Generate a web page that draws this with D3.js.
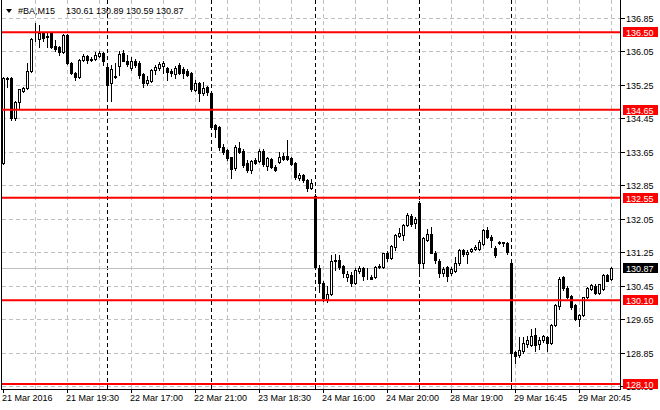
<!DOCTYPE html>
<html><head><meta charset="utf-8">
<script src="https://cdn.jsdelivr.net/npm/d3@7/dist/d3.min.js"></script>
<style>
html,body{margin:0;padding:0;background:#fff;}
svg{display:block;font-family:"Liberation Sans",Arial,sans-serif;font-size:9px;}
</style>
</head><body>
<svg id="c" width="660" height="410"></svg>
<script>
const symbol = "#BA,M15";
const timeLabels = ["21 Mar 2016","21 Mar 19:30","22 Mar 17:00","22 Mar 21:00","23 Mar 18:30","24 Mar 16:00","24 Mar 20:00","28 Mar 19:00","29 Mar 16:45","29 Mar 20:45"];
const timeLabelBars = [0,16,32,48,64,80,96,112,128,144];
const daySeparatorBars = [26,52,78,104,127];
const priceTicks = [136.85,136.05,135.25,134.45,133.65,132.85,132.05,131.25,130.45,129.65,128.85,128.05];
const levels = [136.50,134.65,132.55,130.10,128.10];

const open = [133.37,135.40,135.40,134.46,134.84,135.10,135.17,135.58,136.33,136.33,
136.47,136.40,136.47,136.17,136.15,136.03,136.43,135.76,135.52,135.42,
135.84,135.93,135.84,135.86,135.93,136.00,135.68,135.28,135.45,135.69,
136.00,135.82,135.64,135.81,135.76,135.50,135.29,135.34,135.60,135.64,
135.70,135.64,135.58,135.50,135.72,135.61,135.58,135.52,135.12,135.29,
135.04,135.18,135.04,134.28,134.24,133.75,133.69,133.51,133.25,133.73,
133.67,133.37,133.21,133.45,133.43,133.67,133.30,133.47,133.27,133.41,
133.54,133.55,133.49,133.38,133.03,133.09,132.97,132.77,132.59,130.87,
130.51,130.14,130.25,131.06,131.06,130.92,130.66,130.70,130.52,130.80,
130.87,130.67,130.66,130.66,130.89,130.90,131.22,131.10,131.38,131.64,
131.66,131.90,132.12,131.95,132.42,131.00,131.55,131.68,131.24,131.05,
130.74,130.89,130.74,130.81,130.98,131.30,131.21,131.28,131.33,131.33,
131.45,131.78,131.62,131.34,131.50,131.49,131.46,130.98,128.87,128.79,
128.90,129.05,129.03,129.27,129.05,129.15,129.22,129.07,129.51,129.96,
130.66,130.39,130.20,129.99,129.65,129.75,130.17,130.37,130.44,130.27,
130.38,130.70,130.61];
const high = [135.42,135.44,135.42,134.86,135.15,135.20,135.77,136.35,136.73,136.67,
136.50,136.47,136.49,136.31,136.17,136.45,136.45,135.78,135.55,135.86,
135.98,135.96,135.90,136.03,136.06,136.02,135.72,135.72,135.76,136.06,
136.07,135.95,135.90,135.86,135.80,135.52,135.45,135.62,135.72,135.78,
135.80,135.68,135.62,135.70,135.76,135.66,135.62,135.55,135.36,135.31,
135.32,135.22,135.08,134.32,134.26,133.82,133.71,133.53,133.80,133.89,
133.70,133.45,133.45,133.50,133.70,133.72,133.52,133.50,133.34,133.65,
133.62,133.93,133.52,133.40,133.15,133.12,133.00,132.99,132.64,130.95,
130.55,130.45,131.18,131.20,131.18,130.95,130.80,130.78,130.88,130.92,
130.90,130.88,130.70,130.92,130.96,131.24,131.28,131.42,131.68,131.82,
131.92,132.19,132.16,132.10,132.48,131.60,131.80,131.85,131.27,131.08,
130.90,130.92,130.90,131.14,131.32,131.33,131.30,131.36,131.42,131.55,
131.80,131.84,131.65,131.40,131.52,131.50,131.48,131.00,128.90,129.22,
129.23,129.25,129.42,129.43,129.22,129.28,129.25,129.53,130.01,130.66,
130.68,130.45,130.22,130.02,129.78,130.19,130.41,130.49,130.50,130.50,
130.72,130.73,130.89];
const low = [133.35,135.19,134.40,134.40,134.68,135.06,135.15,135.56,136.30,136.15,
136.30,136.14,136.12,136.05,135.95,136.00,135.74,135.50,135.37,135.40,
135.82,135.76,135.80,135.84,135.90,135.72,134.88,134.86,135.40,135.48,
135.80,135.70,135.60,135.68,135.40,135.18,135.25,135.30,135.50,135.60,
135.52,135.37,135.46,135.40,135.50,135.40,135.45,135.10,135.10,134.86,
135.00,135.00,134.20,134.00,133.69,133.60,133.45,133.01,133.22,133.62,
133.29,133.17,133.14,133.35,133.40,133.30,133.22,133.25,133.18,133.38,
133.44,133.44,133.32,132.99,132.98,132.92,132.72,132.75,130.85,130.31,
130.08,130.07,130.22,130.82,130.85,130.66,130.55,130.44,130.50,130.76,
130.58,130.60,130.60,130.64,130.86,130.88,131.05,131.08,131.30,131.62,
131.55,131.88,131.88,131.82,130.70,130.87,131.52,131.22,131.00,130.65,
130.68,130.55,130.70,130.78,130.95,131.15,130.98,131.25,131.30,131.30,
131.42,131.58,131.38,131.14,131.44,131.40,131.20,128.18,128.60,128.75,
128.85,128.98,129.00,128.90,128.93,129.10,128.90,129.05,129.48,129.90,
130.35,130.15,129.90,129.62,129.49,129.72,130.15,130.35,130.25,130.24,
130.35,130.55,130.59];
const close = [135.40,135.38,134.46,134.84,135.14,135.17,135.58,136.33,136.34,136.47,
136.36,136.39,136.14,136.09,136.03,136.43,135.76,135.52,135.42,135.84,
135.93,135.84,135.86,135.95,136.00,135.82,135.24,135.61,135.43,135.98,
135.82,135.75,135.81,135.71,135.48,135.28,135.35,135.60,135.67,135.74,
135.76,135.56,135.52,135.64,135.52,135.53,135.48,135.14,135.29,135.04,
135.16,135.08,134.24,134.18,133.77,133.65,133.49,133.23,133.77,133.65,
133.33,133.21,133.43,133.38,133.67,133.36,133.49,133.27,133.22,133.51,
133.47,133.47,133.35,133.05,133.09,132.96,132.77,132.91,130.89,130.51,
130.15,130.25,131.05,131.05,130.89,130.76,130.72,130.52,130.82,130.87,
130.67,130.68,130.62,130.89,130.92,131.22,131.10,131.40,131.66,131.70,
131.90,132.14,131.93,132.05,130.98,131.58,131.68,131.24,131.06,130.74,
130.84,130.67,130.84,130.98,131.30,131.21,131.26,131.33,131.38,131.48,
131.78,131.62,131.54,131.18,131.46,131.46,131.26,128.84,128.78,128.91,
129.07,129.15,129.25,129.03,129.15,129.24,129.08,129.51,129.99,130.60,
130.39,130.19,129.95,129.65,129.75,130.17,130.39,130.47,130.27,130.48,
130.70,130.57,130.87];

const bars = open.map((o,i)=>({i, o, h:high[i], l:low[i], c:close[i]}));
const n = bars.length;
const last = bars[n-1];

const plotL = 2, plotR = 620, plotB = 389;
const svg = d3.select("#c");
const x = d3.scaleLinear().domain([0, n-1]).range([3, 3 + 4*(n-1)]);
const y = d3.scaleLinear().domain([128.05, 136.85]).range([386.2, 17.5]);
const fmt = d3.format(".2f");
const px = v => Math.round(v) + 0.5;

const grid = svg.append("g").attr("shape-rendering","crispEdges");
// horizontal grid
grid.selectAll("line.h").data(priceTicks).join("line")
  .attr("x1", plotL).attr("x2", plotR)
  .attr("y1", d=>px(y(d))).attr("y2", d=>px(y(d)))
  .attr("stroke","#c0c0c0").attr("stroke-dasharray","4,3");
// vertical grid
grid.selectAll("line.v").data(d3.range(8, n, 8)).join("line")
  .attr("x1", d=>px(x(d))).attr("x2", d=>px(x(d)))
  .attr("y1", 0).attr("y2", plotB)
  .attr("stroke","#c0c0c0").attr("stroke-dasharray","4,3");
// day separators
grid.selectAll("line.sep").data(daySeparatorBars).join("line")
  .attr("x1", d=>px(x(d))).attr("x2", d=>px(x(d)))
  .attr("y1", 0).attr("y2", plotB)
  .attr("stroke","#000").attr("stroke-dasharray","4,3");
// bid line
grid.append("line").attr("x1", plotL).attr("x2", plotR)
  .attr("y1", px(y(last.c))).attr("y2", px(y(last.c)))
  .attr("stroke","#c0c0c0");

// candles
const cg = svg.append("g").attr("shape-rendering","crispEdges");
const candle = cg.selectAll("g").data(bars).join("g");
candle.append("line")
  .attr("x1", d=>x(d.i)+0.5).attr("x2", d=>x(d.i)+0.5)
  .attr("y1", d=>Math.round(y(d.h))).attr("y2", d=>Math.round(y(d.l))+1)
  .attr("stroke","#000");
candle.each(function(d){
  const g = d3.select(this);
  const top = Math.round(y(Math.max(d.o,d.c)));
  const bot = Math.round(y(Math.min(d.o,d.c)));
  const cx = x(d.i);
  if (d.c >= d.o) {
    g.append("rect").attr("x", cx-0.5).attr("y", top+0.5)
      .attr("width", 2).attr("height", Math.max(0, bot-top))
      .attr("fill","#fff").attr("stroke","#000");
  } else {
    g.append("rect").attr("x", cx-1).attr("y", top)
      .attr("width", 3).attr("height", Math.max(1, bot-top+1))
      .attr("fill","#000");
  }
});

// red level lines
svg.append("g").selectAll("line").data(levels).join("line")
  .attr("x1", plotL).attr("x2", plotR)
  .attr("y1", d=>y(d)).attr("y2", d=>y(d))
  .attr("stroke","#ff0000").attr("stroke-width",2);

// frame
const fr = svg.append("g").attr("shape-rendering","crispEdges").attr("stroke","#000");
fr.append("line").attr("x1",1.5).attr("x2",1.5).attr("y1",0).attr("y2",plotB+0.5);
fr.append("line").attr("x1",plotR+0.5).attr("x2",plotR+0.5).attr("y1",0).attr("y2",plotB+0.5);
fr.append("line").attr("x1",1).attr("x2",plotR+1).attr("y1",plotB+0.5).attr("y2",plotB+0.5);

// right price axis
const yAxis = d3.axisRight(y).tickValues(priceTicks).tickFormat(fmt).tickSize(4).tickPadding(2).tickSizeOuter(0);
const ya = svg.append("g").attr("transform", `translate(${plotR+0.5},0)`).call(yAxis);
ya.select(".domain").remove();
ya.selectAll(".tick line").attr("stroke","#000").attr("shape-rendering","crispEdges");
ya.selectAll(".tick").attr("transform", d=>`translate(0,${px(y(d))})`);
ya.selectAll(".tick text").attr("fill","#000").attr("font-size","9px")
  .attr("font-family","Liberation Sans, Arial, sans-serif").attr("dy","0.35em").attr("x",5.5);

// bottom time axis
const xAxis = d3.axisBottom(x).tickValues(timeLabelBars).tickFormat((d,i)=>timeLabels[i]).tickSize(3).tickSizeOuter(0);
const xa = svg.append("g").attr("transform", `translate(0,${plotB+0.5})`).call(xAxis);
xa.select(".domain").remove();
xa.selectAll(".tick").attr("transform", d=>`translate(${x(d)+0.5},0)`);
xa.selectAll(".tick line").attr("stroke","#000").attr("shape-rendering","crispEdges");
xa.selectAll(".tick text").attr("fill","#000").attr("font-size","9px")
  .attr("font-family","Liberation Sans, Arial, sans-serif")
  .attr("text-anchor","start").attr("x",-1.5).attr("y",11.5).attr("dy","0");

// level labels and last price label
const tags = levels.map(v=>({v, bg:"#ff0000"})).concat([{v:last.c, bg:"#000"}]);
const tg = svg.append("g");
tags.forEach(t=>{
  const yc = y(t.v);
  tg.append("rect").attr("x",623).attr("y",Math.round(yc)-5).attr("width",35).attr("height",10)
    .attr("fill",t.bg).attr("shape-rendering","crispEdges");
  tg.append("text").attr("x",626).attr("y",Math.round(yc)+3.5).attr("fill","#fff").text(fmt(t.v));
});

// header
svg.append("polygon").attr("points","6,9 12,9 9,13").attr("fill","#000");
svg.append("text").attr("x",18).attr("y",14).attr("fill","#000").text(symbol);
svg.append("text").attr("x",66).attr("y",14).attr("fill","#000")
  .text([last.o,last.h,last.l,last.c].map(fmt).join(" "));
</script>
</body></html>
